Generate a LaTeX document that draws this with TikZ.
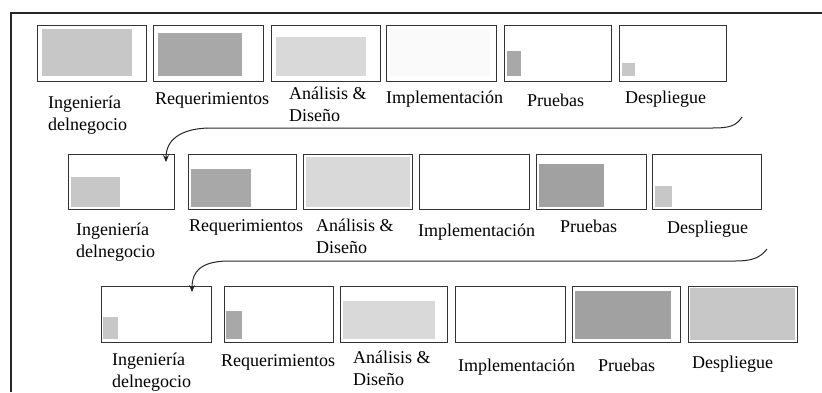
\documentclass[tikz,border=0pt]{standalone}
\usepackage{fontspec}
\setmainfont{Liberation Serif}
\usetikzlibrary{arrows.meta}
\tikzset{
  x=1pt, y=-1pt,
  phase/.style={draw=black!80, line width=1.3pt, rectangle, anchor=north west,
                inner sep=0pt, minimum width=#1, minimum height=56pt},
  phase/.default=109pt,
  % two-line labels are placed by the baseline of their last line
  lbl/.style={anchor=base west, inner sep=0pt, align=left,
              font=\fontsize{18}{22.5}\selectfont},
  flow/.style={draw=black!85, line width=1pt, -{Stealth[length=7pt,width=6pt]}},
}
\definecolor{gA}{gray}{0.78}
\definecolor{gB}{gray}{0.66}
\definecolor{gC}{gray}{0.85}
\definecolor{gD}{gray}{0.63}
\definecolor{gE}{gray}{0.98}
\begin{document}
\begin{tikzpicture}
\useasboundingbox (0,0) rectangle (822,392);
% outer frame
\draw[line width=1.4pt, black!85] (11,392) -- (11,13) -- (822,13);

% ---------- first iteration ----------
\fill[gA] (42,29) rectangle (132,76);
\fill[gB] (158,33) rectangle (242,76);
\fill[gC] (276,37) rectangle (366,76);
\fill[gE] (390,29) rectangle (490,76);
\fill[gB] (507,51) rectangle (521,76);
\fill[gA] (622,63) rectangle (635,76);
\node[phase] (a1) at (37,25) {};
\node[phase=110pt] (a2) at (153,25) {};
\node[phase] (a3) at (271,25) {};
\node[phase=110pt] (a4) at (386,25) {};
\node[phase=107pt] (a5) at (504,25) {};
\node[phase=107pt] (a6) at (619,25) {};
\node[lbl] (ta1) at (48,130.5) {Ingeniería\\delnegocio};
\node[lbl] (ta2) at (155,104) {Requerimientos};
\node[lbl] (ta3) at (289,121.5) {Análisis \&\\Diseño};
\node[lbl] (ta4) at (386,103) {Implementación};
\node[lbl] (ta5) at (527,106) {Pruebas};
\node[lbl] (ta6) at (625,103) {Despliegue};

% ---------- second iteration ----------
\fill[gA] (71,177) rectangle (120,207);
\fill[gB] (191,169) rectangle (251,207);
\fill[gC] (306,157) rectangle (410,207);
\fill[gD] (539,164) rectangle (604,207);
\fill[gA] (655,186) rectangle (672,207);
\node[phase=106pt,minimum height=55pt] (b1) at (68,154) {};
\node[phase=108pt,minimum height=55pt] (b2) at (188,154) {};
\node[phase=109pt,minimum height=55pt] (b3) at (303,154) {};
\node[phase=110pt,minimum height=55pt] (b4) at (419,154) {};
\node[phase=110pt,minimum height=55pt] (b5) at (536,154) {};
\node[phase=109pt,minimum height=55pt] (b6) at (652,154) {};
\node[lbl] (tb1) at (76,257.5) {Ingeniería\\delnegocio};
\node[lbl] (tb2) at (189,231) {Requerimientos};
\node[lbl] (tb3) at (316,253.5) {Análisis \&\\Diseño};
\node[lbl] (tb4) at (418,236) {Implementación};
\node[lbl] (tb5) at (560,232) {Pruebas};
\node[lbl] (tb6) at (667,233) {Despliegue};

% ---------- third iteration ----------
\fill[gA] (103,317) rectangle (118,339);
\fill[gB] (226,311) rectangle (242,339);
\fill[gC] (343,301) rectangle (435,339);
\fill[gD] (575,291) rectangle (671,339);
\fill[gA] (690,288) rectangle (795,340);
\node[phase=110pt] (c1) at (101,286) {};
\node[phase] (c2) at (224,286) {};
\node[phase=107pt] (c3) at (340,286) {};
\node[phase=110pt] (c4) at (455,286) {};
\node[phase=108pt] (c5) at (572,286) {};
\node[phase] (c6) at (688,286) {};
\node[lbl] (tc1) at (112,387.5) {Ingeniería\\delnegocio};
\node[lbl] (tc2) at (221,366) {Requerimientos};
\node[lbl] (tc3) at (353,385.5) {Análisis \&\\Diseño};
\node[lbl] (tc4) at (458,371) {Implementación};
\node[lbl] (tc5) at (598,371) {Pruebas};
\node[lbl] (tc6) at (692,368) {Despliegue};

% ---------- iteration links ----------
\coordinate (s1) at (742,117);
\coordinate (e1) at (166,162);
\coordinate (s2) at (767,249);
\coordinate (e2) at (192,292);
\draw[flow] (s1) .. controls (736,126) and (730,128) .. (712,128)
  -- (208,128) .. controls (180,129) and (166,140) .. (e1);
\draw[flow] (s2) .. controls (760,258) and (752,261) .. (735,261)
  -- (226,261) .. controls (200,262) and (192,272) .. (e2);
\end{tikzpicture}
\end{document}
